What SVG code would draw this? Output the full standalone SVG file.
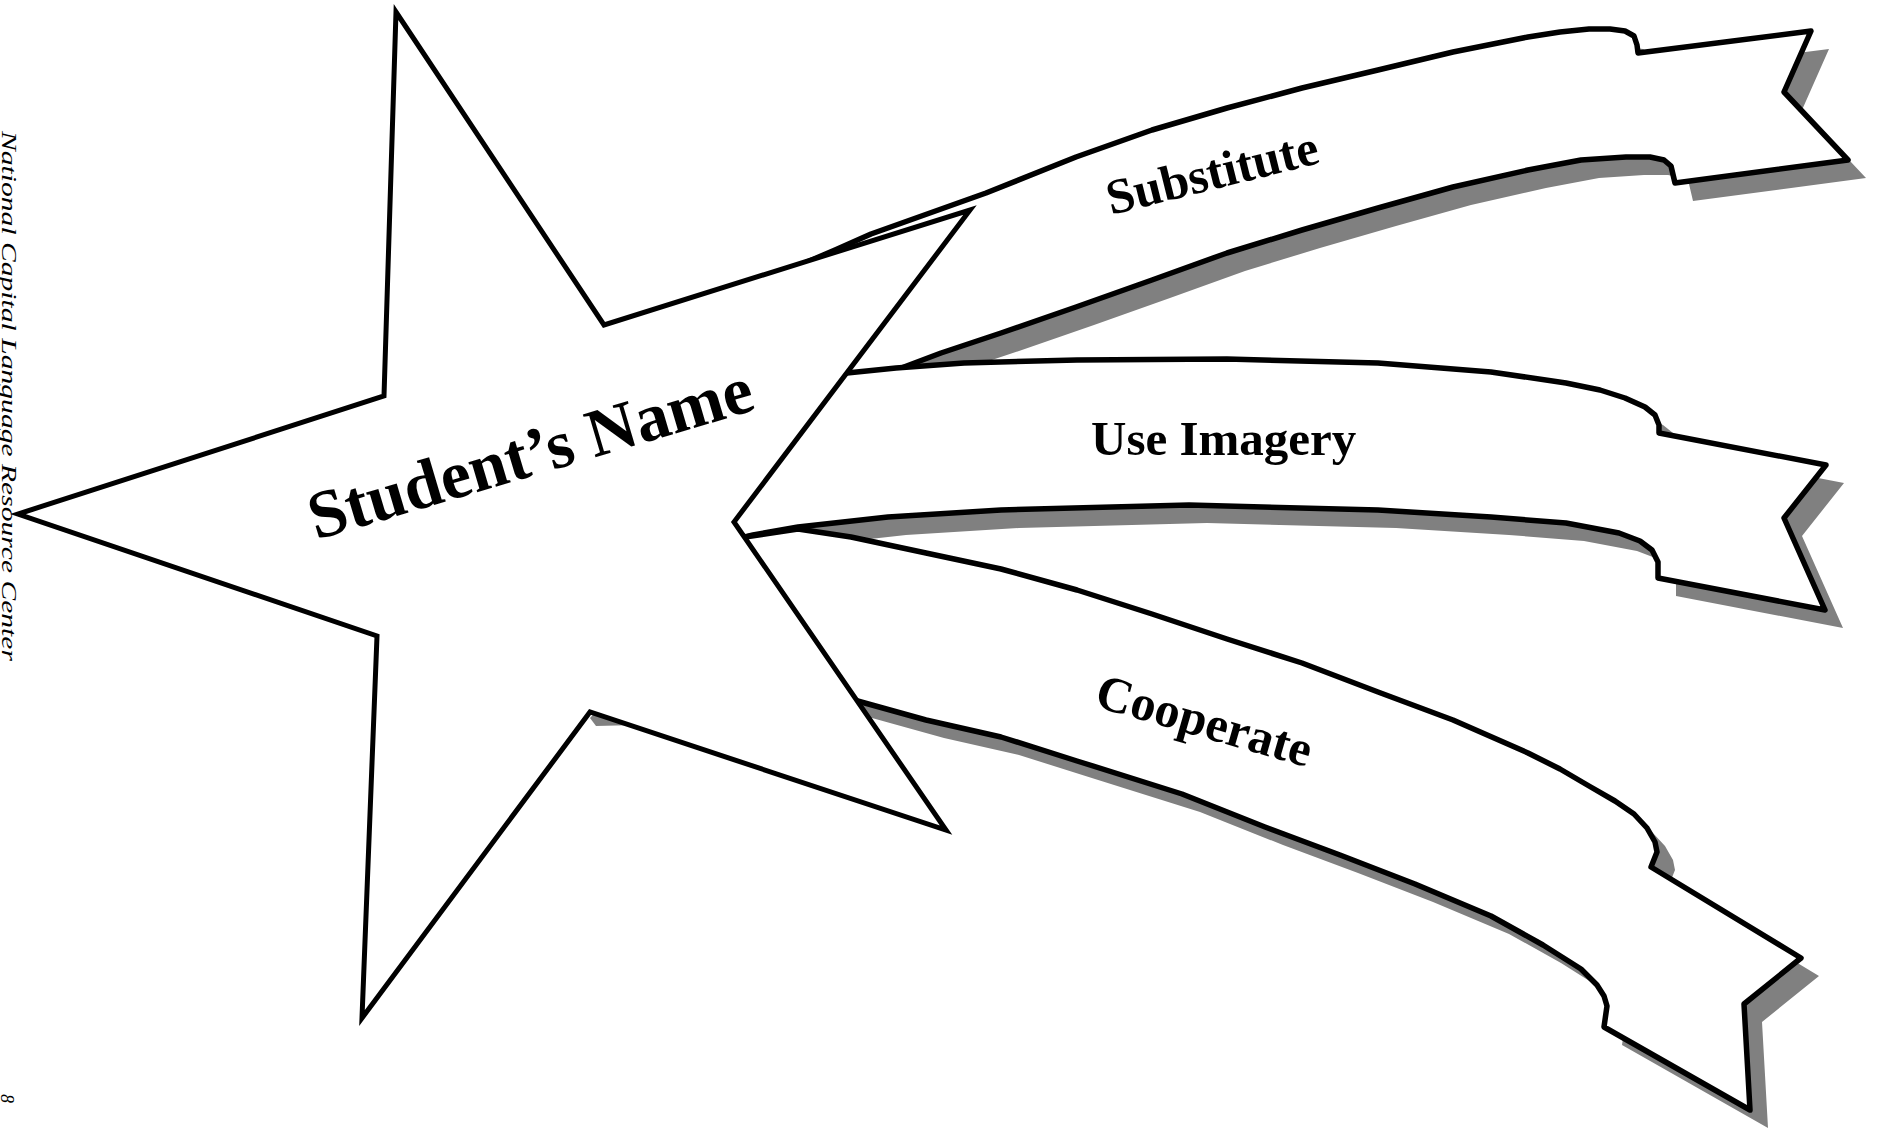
<svg xmlns="http://www.w3.org/2000/svg" width="1881" height="1136" viewBox="0 0 1881 1136">
<defs>
<style>
.shadow{fill:#808080;stroke:none}
.band{fill:#ffffff;stroke:#000000;stroke-width:5.5;stroke-linejoin:round}
.star{fill:#ffffff;stroke:#000000;stroke-width:5;stroke-linejoin:miter;stroke-miterlimit:20}
.lbl{font-family:"Liberation Serif","Times New Roman",serif;font-weight:bold;fill:#000000}
.side{font-family:"Liberation Serif","Times New Roman",serif;font-style:italic;fill:#000000}
</style>
<path id="p-sub" d="M800,265 L835,250 L871,234 L986,193 L1076,157 L1152,130 L1227,108 L1302,88 L1378,70 L1453,52 L1528,37 L1560,32 L1589,29 L1610,29 L1625,31 L1634,36 L1637,45 L1638,53 L1811,31 L1784,92 L1848,160 L1675,183 L1671,166 L1664,160 L1650,157 L1626,157 L1581,160 L1528,170 L1453,187 L1378,208 L1302,230 L1227,253 L1152,280 L1076,307 L1001,333 L941,353 L896,370 L870,374 L830,380 L780,300 Z"/>
<path id="p-use" d="M847,373 L896,368 L964,363 L1077,360 L1227,359 L1378,363 L1491,372 L1566,383 L1600,390 L1625,398 L1645,407 L1655,415 L1659,425 L1659,433 L1826,465 L1784,518 L1825,610 L1658,578 L1658,562 L1652,550 L1640,541 L1619,533 L1566,523 L1491,517 L1378,510 L1189,505 L1001,510 L888,517 L798,527 L753,535 L745,537 L720,520 L800,378 Z"/>
<path id="p-coop" d="M745,537 L798,529 L851,537 L926,553 L1001,569 L1077,590 L1152,614 L1227,639 L1302,663 L1378,692 L1453,720 L1528,753 L1560,769 L1589,786 L1615,801 L1634,814 L1647,828 L1655,842 L1657,852 L1651,867 L1801,958 L1744,1004 L1750,1110 L1604,1027 L1607,1006 L1604,996 L1597,985 L1581,969 L1543,945 L1491,916 L1415,884 L1340,855 L1265,827 L1182,794 L1077,761 L1001,737 L926,720 L854,700 L700,705 L578,708 L572,700 L700,560 Z"/>
</defs>
<rect x="0" y="0" width="1881" height="1136" fill="#ffffff"/>
<g id="side-text">
<text class="side" font-size="20" transform="translate(2,131) rotate(90)" textLength="530" lengthAdjust="spacingAndGlyphs">National Capital Language Resource Center</text>
<text class="side" font-size="18" transform="translate(1,1094) rotate(90)">8</text>
</g>
<g id="banner-substitute">
<use href="#p-sub" class="shadow" transform="translate(18,18)"/>
<use href="#p-sub" class="band"/>
<text class="lbl" font-size="50" x="1111" y="215" transform="rotate(-14 1111 215)">Substitute</text>
</g>
<g id="banner-use-imagery">
<use href="#p-use" class="shadow" transform="translate(18,18)"/>
<use href="#p-use" class="band"/>
<text class="lbl" font-size="49" x="1091" y="455">Use Imagery</text>
</g>
<g id="banner-cooperate">
<use href="#p-coop" class="shadow" transform="translate(18,18)"/>
<use href="#p-coop" class="band"/>
<text class="lbl" font-size="50" x="1093" y="706" transform="rotate(16 1093 706)">Cooperate</text>
</g>
<g id="connectors"></g>
<g id="star">
<polygon class="star" points="396,12 604,325 970,210 734,522 946,830 590,712 362,1018 377,636 18,514 384,396"/>
<text class="lbl" font-size="68" x="316" y="540" transform="rotate(-16.5 316 540)">Student’s Name</text>
</g>
</svg>
